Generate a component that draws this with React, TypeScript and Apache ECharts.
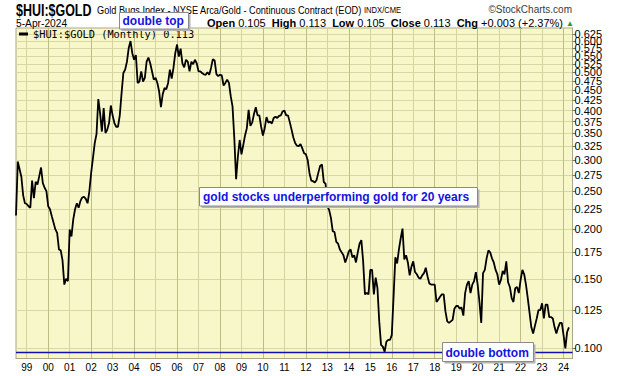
import React, { useEffect, useRef } from "react";
import * as echarts from "echarts";

// ---- data ----
const START_YEAR = 1998;
const START_MONTH = 7; // first monthly bar: Jul 1998
const EXTRA_MONTHS = 2; // empty months after the last bar (right margin of the plot)

// $HUI:$GOLD monthly closes, Jul 1998 .. Apr 2024
const huiGold: number[] = [
  // 1998 Jul-Dec
  0.217, 0.297, 0.284, 0.272, 0.244, 0.233,
  // 1999
  0.232, 0.229, 0.227, 0.266, 0.240, 0.264, 0.260, 0.273, 0.287, 0.262, 0.255, 0.250,
  // 2000
  0.229, 0.225, 0.216, 0.208, 0.200, 0.196, 0.178, 0.177, 0.167, 0.145, 0.150, 0.148,
  // 2001
  0.200, 0.192, 0.212, 0.225, 0.233, 0.227, 0.236, 0.241, 0.242, 0.239, 0.233, 0.250,
  // 2002
  0.278, 0.303, 0.331, 0.349, 0.428, 0.394, 0.354, 0.406, 0.351, 0.358, 0.372, 0.412,
  // 2003
  0.389, 0.372, 0.364, 0.364, 0.389, 0.443, 0.498, 0.508, 0.532, 0.576, 0.600, 0.559,
  // 2004
  0.538, 0.553, 0.470, 0.474, 0.503, 0.474, 0.484, 0.532, 0.545, 0.527, 0.503, 0.479,
  // 2005
  0.484, 0.470, 0.447, 0.408, 0.440, 0.456, 0.453, 0.470, 0.508, 0.482, 0.513, 0.559,
  // 2006
  0.588, 0.548, 0.574, 0.527, 0.515, 0.538, 0.532, 0.503, 0.532, 0.524, 0.538, 0.527,
  // 2007
  0.503, 0.503, 0.498, 0.494, 0.493, 0.500, 0.493, 0.513, 0.540, 0.536, 0.495, 0.489,
  // 2008
  0.493, 0.491, 0.463, 0.470, 0.479, 0.470, 0.435, 0.410, 0.341, 0.268, 0.306, 0.337,
  // 2009
  0.310, 0.327, 0.346, 0.361, 0.402, 0.366, 0.373, 0.392, 0.408, 0.389, 0.389, 0.364,
  // 2010
  0.346, 0.361, 0.385, 0.373, 0.375, 0.371, 0.383, 0.386, 0.383, 0.388, 0.389, 0.398,
  // 2011
  0.400, 0.389, 0.389, 0.374, 0.358, 0.342, 0.331, 0.326, 0.325, 0.329, 0.321, 0.312,
  // 2012
  0.310, 0.300, 0.278, 0.266, 0.265, 0.263, 0.267, 0.279, 0.290, 0.292, 0.264, 0.261,
  // 2013
  0.229, 0.224, 0.214, 0.198, 0.197, 0.186, 0.184, 0.178, 0.175, 0.172, 0.165, 0.170,
  // 2014
  0.176, 0.178, 0.170, 0.172, 0.165, 0.175, 0.184, 0.188, 0.166, 0.137, 0.138, 0.137,
  // 2015
  0.158, 0.158, 0.137, 0.151, 0.142, 0.117, 0.102, 0.101, 0.098, 0.104, 0.105, 0.105,
  // 2016
  0.108, 0.135, 0.170, 0.164, 0.178, 0.190, 0.201, 0.168, 0.172, 0.165, 0.153, 0.161,
  // 2017
  0.166, 0.156, 0.154, 0.151, 0.150, 0.153, 0.155, 0.160, 0.152, 0.146, 0.145, 0.145,
  // 2018
  0.145, 0.131, 0.133, 0.135, 0.137, 0.137, 0.124, 0.117, 0.116, 0.117, 0.118, 0.126,
  // 2019
  0.128, 0.128, 0.126, 0.127, 0.121, 0.138, 0.145, 0.148, 0.138, 0.145, 0.148, 0.156,
  // 2020
  0.145, 0.131, 0.116, 0.155, 0.158, 0.169, 0.177, 0.175, 0.169, 0.165, 0.158, 0.154,
  // 2021
  0.145, 0.149, 0.157, 0.154, 0.166, 0.147, 0.143, 0.134, 0.131, 0.142, 0.143, 0.138,
  // 2022
  0.149, 0.158, 0.154, 0.145, 0.134, 0.123, 0.113, 0.109, 0.114, 0.119, 0.125, 0.125,
  // 2023
  0.130, 0.119, 0.129, 0.129, 0.120, 0.120, 0.119, 0.113, 0.109, 0.113, 0.116, 0.116,
  // 2024 Jan-Apr
  0.108, 0.100, 0.110, 0.113,
];

const yTickValues: number[] = [
  0.1, 0.125, 0.15, 0.175, 0.2, 0.225, 0.25, 0.275, 0.3, 0.325, 0.35, 0.375, 0.4,
  0.425, 0.45, 0.475, 0.5, 0.525, 0.55, 0.575, 0.6, 0.625,
];
const Y_MIN = 0.09423;
const Y_MAX = 0.6475;
const SUPPORT_LEVEL = 0.0971; // "double bottom" line

const quote = { date: "5-Apr-2024", open: "0.105", high: "0.113", low: "0.105", close: "0.113", chg: "+0.003", pct: "+2.37%" };

// month categories
const months: string[] = [];
for (let i = 0; i < huiGold.length + EXTRA_MONTHS; i++) {
  const total = START_MONTH - 1 + i;
  const yr = START_YEAR + Math.floor(total / 12);
  const mo = (total % 12) + 1;
  months.push(`${yr}-${String(mo).padStart(2, "0")}`);
}

const lg = (v: number) => Math.log10(v);
const isJan = (_i: number, v: string) => typeof v === "string" && v.endsWith("-01");

const FONT = "Liberation Sans";
const BLUE = "#1414e0";

export default function App() {
  const ref = useRef<HTMLDivElement>(null);

  useEffect(() => {
    if (!ref.current) return;
    const chart = echarts.init(ref.current, null, { renderer: "svg" });
    const tickLog = yTickValues.map(lg);
    const last = huiGold[huiGold.length - 1];

    // labels split over three overlaid axes so the crowded top labels are all kept
    const labelGroups = [0, 1, 2].map((k) => tickLog.filter((_, i) => i % 3 === k));

    const yAxes = labelGroups.map((vals, k) => ({
      type: "value",
      position: "right",
      offset: 0,
      min: lg(Y_MIN),
      max: lg(Y_MAX),
      axisLine: { show: k === 0, lineStyle: { color: "#a9a88a" } },
      axisTick: { show: k === 0, length: 3, customValues: tickLog, lineStyle: { color: "#777" } },
      axisLabel: {
        customValues: vals,
        formatter: (v: number) => Math.pow(10, v).toFixed(3),
        fontFamily: FONT,
        fontSize: 11,
        color: "#000",
        margin: 2,
        showMinLabel: true,
        showMaxLabel: true,
        hideOverlap: false,
      },
      splitLine: { show: k === 0, lineStyle: { color: "#d9d7a4", width: 1 } },
    }));

    const box = (x: number, y: number, w: number, h: number, text: string, tx: number, ty: number) => [
      {
        type: "rect",
        z: 100,
        shape: { x: x + 2, y: y + 2, width: w, height: h },
        style: { fill: "#b4b4b4" },
      },
      {
        type: "rect",
        z: 101,
        shape: { x, y, width: w, height: h },
        style: { fill: "#ffffff", stroke: "#8a8a8a", lineWidth: 1 },
      },
      {
        type: "text",
        z: 102,
        x: tx,
        y: ty,
        style: {
          text,
          fill: BLUE,
          fontFamily: FONT,
          fontSize: 12,
          fontWeight: "bold",
          verticalAlign: "middle",
        },
      },
    ];

    const option: any = {
      animation: false,
      backgroundColor: "#ffffff",
      grid: {
        left: 16,
        right: 47.5,
        top: 28,
        bottom: 17.5,
        show: true,
        backgroundColor: "#f8f7c9",
        borderColor: "#a9a88a",
        borderWidth: 1,
      },
      legend: {
        show: true,
        left: 19,
        top: 29,
        padding: 0,
        icon: "rect",
        itemWidth: 9,
        itemHeight: 3,
        formatter: (name: string) => `${name} (Monthly) ${last.toFixed(3)}`,
        textStyle: { fontFamily: "DejaVu Sans Mono", fontSize: 10.3, color: "#000" },
      },
      xAxis: {
        type: "category",
        data: months,
        boundaryGap: false,
        axisLine: { show: true, lineStyle: { color: "#a9a88a" } },
        axisTick: { show: false },
        axisLabel: {
          interval: isJan,
          formatter: (v: string) => v.slice(2, 4),
          fontFamily: FONT,
          fontSize: 10,
          color: "#000",
          margin: 4,
        },
        splitLine: {
          show: true,
          interval: isJan,
          lineStyle: { color: ["#d6d49e", "#bebd82"], width: 1 },
        },
      },
      yAxis: yAxes,
      series: [
        {
          name: "$HUI:$GOLD",
          type: "line",
          yAxisIndex: 0,
          data: huiGold.map(lg),
          color: "#000",
          symbol: "none",
          lineStyle: { color: "#000", width: 1.8 },
          z: 3,
          markLine: {
            silent: true,
            symbol: "none",
            label: { show: false },
            lineStyle: { color: "#1010b0", width: 1.3, type: "solid" },
            data: [{ yAxis: lg(SUPPORT_LEVEL) }],
          },
        },
      ],
      graphic: [
        {
          type: "text",
          x: 16,
          y: 10,
          scaleX: 0.78,
          style: { text: "$HUI:$GOLD", fontFamily: FONT, fontSize: 16, fontWeight: "bold", fill: "#000", verticalAlign: "middle" },
        },
        {
          type: "text",
          x: 97,
          y: 10,
          scaleX: 0.835,
          style: {
            text: "Gold Bugs Index - NYSE Arca/Gold - Continuous Contract (EOD)",
            fontFamily: FONT,
            fontSize: 11,
            fill: "#000",
            verticalAlign: "middle",
          },
        },
        {
          type: "text",
          x: 364,
          y: 10,
          scaleX: 0.8,
          style: { text: "INDX/CME", fontFamily: FONT, fontSize: 9.5, fill: "#000", verticalAlign: "middle" },
        },
        {
          type: "text",
          x: 572,
          y: 9,
          style: { text: "©StockCharts.com", fontFamily: FONT, fontSize: 10, fill: "#3a3a3a", align: "right", verticalAlign: "middle" },
        },
        {
          type: "text",
          x: 16,
          y: 23,
          scaleX: 0.93,
          style: { text: quote.date, fontFamily: FONT, fontSize: 11, fill: "#000", verticalAlign: "middle" },
        },
        {
          type: "text",
          x: 207,
          y: 23,
          style: {
            text: `{b|Open} ${quote.open}  {b|High} ${quote.high}  {b|Low} ${quote.low}  {b|Close} ${quote.close}  {b|Chg} ${quote.chg} (${quote.pct}) {g|▲}`,
            fontFamily: FONT,
            fontSize: 11,
            fill: "#000",
            verticalAlign: "middle",
            rich: {
              b: { fontFamily: FONT, fontSize: 11, fontWeight: "bold", fill: "#000" },
              g: { fontFamily: FONT, fontSize: 8, fill: "#2a9a2a" },
            },
          },
        },
        ...box(119.5, 12.5, 69, 16.5, "double top", 122.5, 21),
        ...box(199.5, 187.5, 278, 18.5, "gold stocks underperforming gold for 20 years", 203, 197),
        ...box(442.5, 342.5, 91, 19, "double bottom", 445.5, 352.5),
      ],
    };

    chart.setOption(option);
    return () => chart.dispose();
  }, []);

  return <div ref={ref} style={{ width: 620, height: 376, position: "absolute", left: 0, top: 0 }} />;
}
